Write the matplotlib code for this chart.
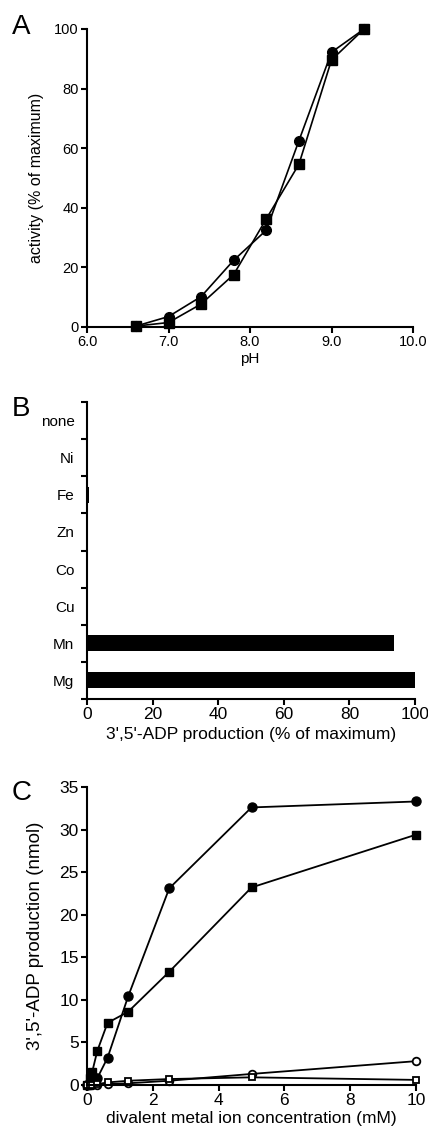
import matplotlib
matplotlib.use("Agg")
import matplotlib.pyplot as plt
import numpy as np

plt.rcParams['font.family'] = ['Liberation Sans', 'DejaVu Sans']

# Panel A data
ph = [6.6, 7.0, 7.4, 7.8, 8.2, 8.6, 9.0, 9.4]
act_circle = [0.3, 3.5, 10.2, 22.4, 32.5, 62.5, 92.2, 100]
act_square = [0.3, 1.5, 7.7, 17.6, 36.3, 54.6, 89.6, 100]

# Panel B data
metals = ['none', 'Ni', 'Fe', 'Zn', 'Co', 'Cu', 'Mn', 'Mg']
adp_pct = [0, 0, 0.6, 0, 0, 0, 93.5, 100]

# Panel C data
conc = [0, 0.078, 0.156, 0.3125, 0.625, 1.25, 2.5, 5, 10]
c_filled_circle = [0, 0.3, 1.2, 0.8, 3.2, 10.4, 23.1, 32.6, 33.3]
c_filled_square = [0, 0.8, 1.5, 4.0, 7.3, 8.6, 13.3, 23.2, 29.4]
c_open_circle = [0, 0, 0, 0, 0.1, 0.2, 0.5, 1.3, 2.8]
c_open_square = [0, 0, 0, 0.1, 0.3, 0.5, 0.7, 0.9, 0.6]

W, H = 428, 1134
fig = plt.figure(figsize=(W / 100, H / 100), dpi=100)

def box(l, t, r, b):
    return [l / W, 1 - b / H, (r - l) / W, (b - t) / H]

def style(ax, ls):
    for s in ['top', 'right']:
        ax.spines[s].set_visible(False)
    for s in ['left', 'bottom']:
        ax.spines[s].set_linewidth(1.5)
    ax.tick_params(direction='out', length=4, width=1.5, labelsize=ls, pad=2)

# Panel A
axA = fig.add_axes(box(87, 29, 413, 327))
axA.plot(ph, act_circle, '-o', color='black', lw=1.2, ms=7, clip_on=False)
axA.plot(ph, act_square, '-s', color='black', lw=1.2, ms=7, clip_on=False)
axA.set_xlim(6, 10)
axA.set_ylim(0, 100)
axA.set_xticks([6, 7, 8, 9, 10])
axA.set_xticklabels(['6.0', '7.0', '8.0', '9.0', '10.0'])
axA.set_yticks([0, 20, 40, 60, 80, 100])
axA.set_xlabel('pH', fontsize=11, labelpad=2)
axA.set_ylabel('activity (% of maximum)', fontsize=11.5, labelpad=7)
style(axA, 10.5)

# Panel B
axB = fig.add_axes(box(87, 402, 415, 699))
ypos = np.arange(len(metals))
axB.barh(ypos, adp_pct, height=0.43, color='black')
axB.set_ylim(len(metals) - 0.5, -0.5)
axB.set_xlim(0, 100)
axB.set_yticks(np.arange(len(metals) + 1) - 0.5)
axB.set_yticklabels([])
axB.set_yticks(ypos, minor=True)
axB.set_yticklabels(metals, minor=True)
axB.set_xticks([0, 20, 40, 60, 80, 100])
axB.set_xlabel("3',5'-ADP production (% of maximum)", fontsize=12.5, labelpad=3)
style(axB, 12.5)
axB.tick_params(axis='y', which='minor', length=0, labelsize=11, pad=9)

# Panel C
axC = fig.add_axes(box(87, 787, 416, 1085))
axC.plot(conc, c_filled_circle, '-o', color='black', lw=1.3, ms=6.5, clip_on=False)
axC.plot(conc, c_filled_square, '-s', color='black', lw=1.3, ms=5.5, clip_on=False)
axC.plot(conc, c_open_circle, '-o', color='black', mfc='white', mew=1.3, lw=1.3, ms=5.5, clip_on=False)
axC.plot(conc, c_open_square, '-s', color='black', mfc='white', mew=1.3, lw=1.3, ms=5, clip_on=False)
axC.set_xlim(0, 10)
axC.set_ylim(0, 35)
axC.set_xticks([0, 2, 4, 6, 8, 10])
axC.set_yticks([0, 5, 10, 15, 20, 25, 30, 35])
axC.set_xlabel('divalent metal ion concentration (mM)', fontsize=12.5, labelpad=2)
axC.set_ylabel("3',5'-ADP production (nmol)", fontsize=13.5, labelpad=11)
style(axC, 12.5)

# Panel letters
fig.text(12 / W, 1 - 34 / H, 'A', fontsize=20)
fig.text(12 / W, 1 - 416 / H, 'B', fontsize=20)
fig.text(12 / W, 1 - 800 / H, 'C', fontsize=20)

fig.savefig('out.png', dpi=100)
